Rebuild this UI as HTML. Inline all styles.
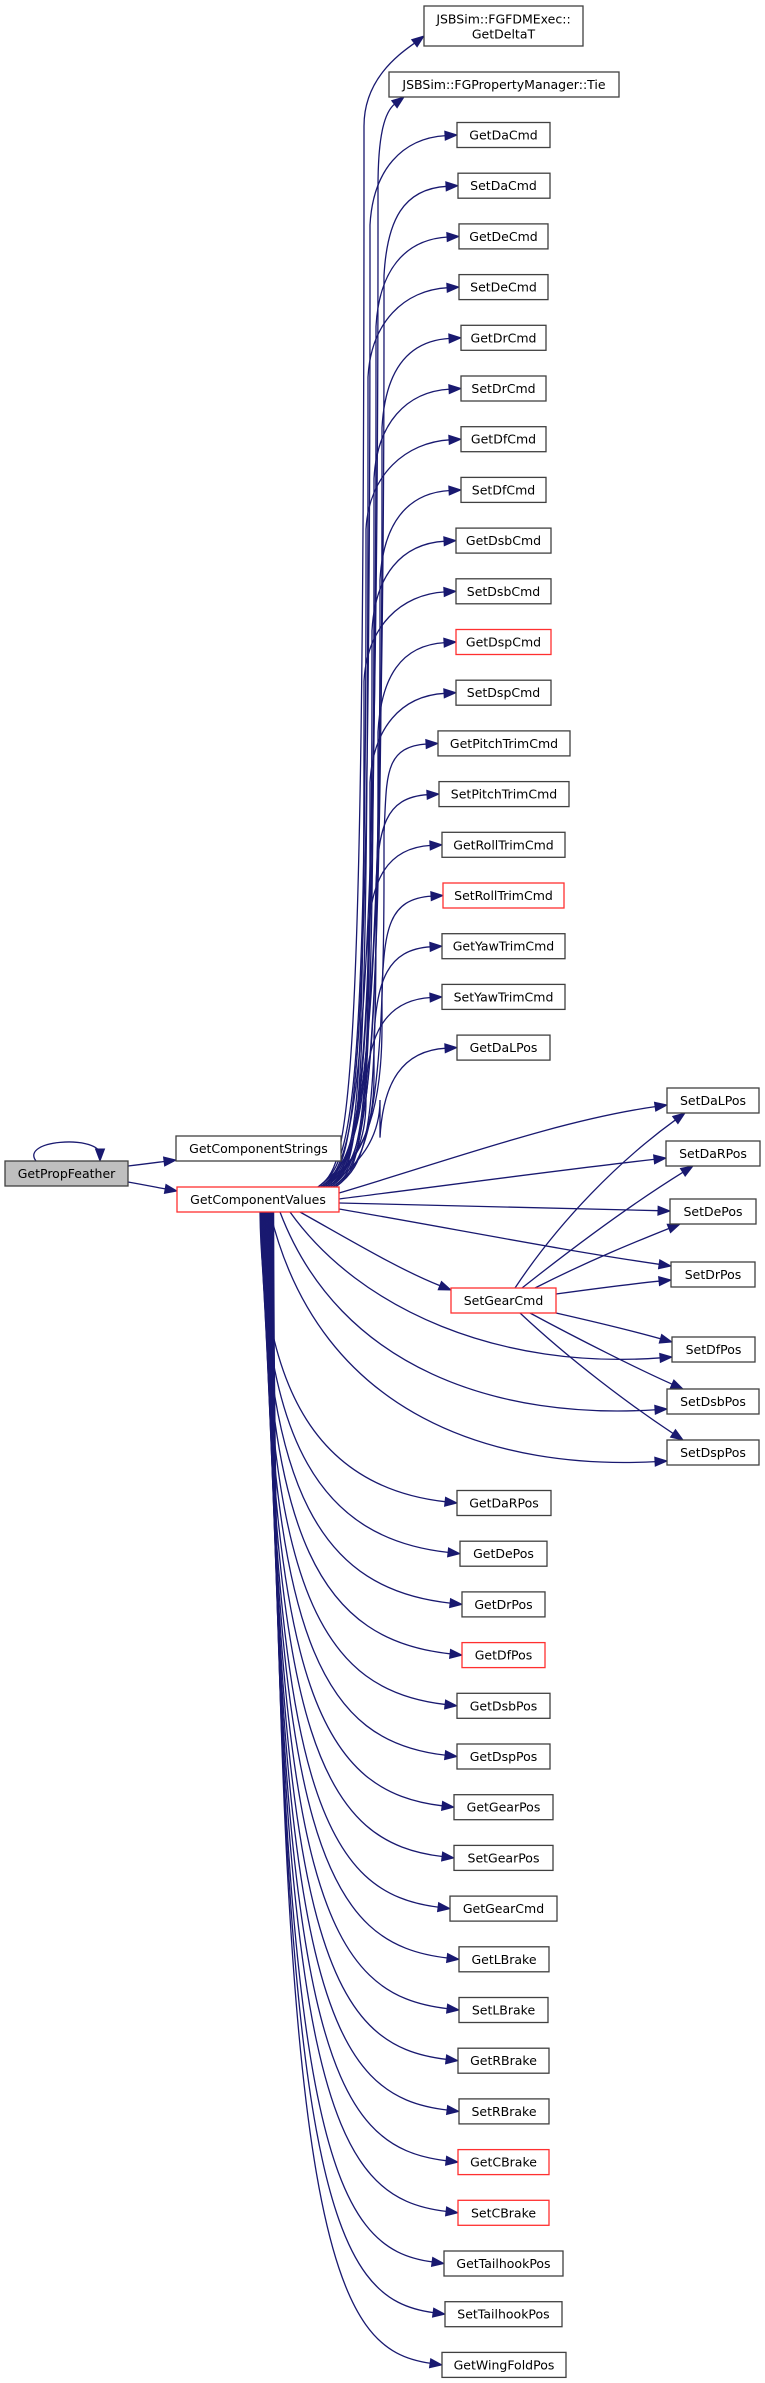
<!DOCTYPE html>
<html><head><meta charset="utf-8">
<style>
html,body{margin:0;padding:0;background:#fff;}
svg{display:block;}
text{font-family:"DejaVu Sans","Liberation Sans",sans-serif;font-size:12.5px;fill:#000;text-anchor:middle;dominant-baseline:central;}
rect{fill:#fff;stroke:#404040;stroke-width:1.3;}
rect.r{stroke:#ff3030;}
rect.g{fill:#bfbfbf;}
path{fill:none;stroke:#191970;stroke-width:1.3;}
polygon{fill:#191970;stroke:#191970;}
</style></head><body>
<svg id="s" width="765" height="2383" viewBox="0 0 765 2383" xmlns="http://www.w3.org/2000/svg">
<g id="edges"></g>
<g id="nodes">
<rect class="g" x="5" y="1161" width="123" height="25"/><text x="66.5" y="1173.5">GetPropFeather</text>
<rect x="176" y="1136" width="165" height="25"/><text x="258.5" y="1148.5">GetComponentStrings</text>
<rect class="r" x="177" y="1187" width="162" height="25"/><text x="258" y="1199.5">GetComponentValues</text>
<rect x="424" y="6" width="159" height="40"/><text x="503.5" y="19">JSBSim::FGFDMExec::</text><text x="503.5" y="34">GetDeltaT</text>
<rect x="389" y="72" width="230" height="25"/><text x="504" y="84.5">JSBSim::FGPropertyManager::Tie</text>

<rect x="457" y="122.5" width="93" height="25"/><text x="503.5" y="135">GetDaCmd</text>
<rect x="458" y="173.2" width="92" height="25"/><text x="503.5" y="185.7">SetDaCmd</text>
<rect x="459" y="223.9" width="89" height="25"/><text x="503.5" y="236.4">GetDeCmd</text>
<rect x="459" y="274.6" width="89" height="25"/><text x="503.5" y="287.1">SetDeCmd</text>
<rect x="461" y="325.3" width="85" height="25"/><text x="503.5" y="337.8">GetDrCmd</text>
<rect x="461" y="376" width="85" height="25"/><text x="503.5" y="388.5">SetDrCmd</text>
<rect x="461" y="426.7" width="85" height="25"/><text x="503.5" y="439.2">GetDfCmd</text>
<rect x="461" y="477.4" width="85" height="25"/><text x="503.5" y="489.9">SetDfCmd</text>
<rect x="456" y="528.1" width="95" height="25"/><text x="503.5" y="540.6">GetDsbCmd</text>
<rect x="456" y="578.8" width="95" height="25"/><text x="503.5" y="591.3">SetDsbCmd</text>
<rect class="r" x="456" y="629.5" width="95" height="25"/><text x="503.5" y="642">GetDspCmd</text>
<rect x="456" y="680.2" width="95" height="25"/><text x="503.5" y="692.7">SetDspCmd</text>
<rect x="438" y="730.9" width="132" height="25"/><text x="504" y="743.4">GetPitchTrimCmd</text>
<rect x="439" y="781.6" width="130" height="25"/><text x="504" y="794.1">SetPitchTrimCmd</text>
<rect x="442" y="832.3" width="123" height="25"/><text x="503.5" y="844.8">GetRollTrimCmd</text>
<rect class="r" x="443" y="883" width="121" height="25"/><text x="503.5" y="895.5">SetRollTrimCmd</text>
<rect x="442" y="933.7" width="123" height="25"/><text x="503.5" y="946.2">GetYawTrimCmd</text>
<rect x="442" y="984.4" width="123" height="25"/><text x="503.5" y="996.9">SetYawTrimCmd</text>
<rect x="457" y="1035.1" width="93" height="25"/><text x="503.5" y="1047.6">GetDaLPos</text>

<rect class="r" x="451" y="1288" width="105" height="25"/><text x="503.5" y="1300.5">SetGearCmd</text>

<rect x="667" y="1088" width="92" height="25"/><text x="713" y="1100.5">SetDaLPos</text>
<rect x="666" y="1141" width="94" height="25"/><text x="713" y="1153.5">SetDaRPos</text>
<rect x="670" y="1199" width="86" height="25"/><text x="713" y="1211.5">SetDePos</text>
<rect x="671" y="1262" width="84" height="25"/><text x="713" y="1274.5">SetDrPos</text>
<rect x="672" y="1337" width="83" height="25"/><text x="713.5" y="1349.5">SetDfPos</text>
<rect x="667" y="1389" width="92" height="25"/><text x="713" y="1401.5">SetDsbPos</text>
<rect x="667" y="1440" width="92" height="25"/><text x="713" y="1452.5">SetDspPos</text>

<rect x="457" y="1490.5" width="94" height="25"/><text x="504" y="1503">GetDaRPos</text>
<rect x="460" y="1541.2" width="87" height="25"/><text x="503.5" y="1553.7">GetDePos</text>
<rect x="462" y="1591.9" width="83" height="25"/><text x="503.5" y="1604.4">GetDrPos</text>
<rect class="r" x="462" y="1642.6" width="83" height="25"/><text x="503.5" y="1655.1">GetDfPos</text>
<rect x="457" y="1693.3" width="93" height="25"/><text x="503.5" y="1705.8">GetDsbPos</text>
<rect x="457" y="1744" width="93" height="25"/><text x="503.5" y="1756.5">GetDspPos</text>
<rect x="454" y="1794.7" width="99" height="25"/><text x="503.5" y="1807.2">GetGearPos</text>
<rect x="454" y="1845.4" width="99" height="25"/><text x="503.5" y="1857.9">SetGearPos</text>
<rect x="450" y="1896.1" width="107" height="25"/><text x="503.5" y="1908.6">GetGearCmd</text>
<rect x="459" y="1946.8" width="90" height="25"/><text x="504" y="1959.3">GetLBrake</text>
<rect x="459" y="1997.5" width="89" height="25"/><text x="503.5" y="2010">SetLBrake</text>
<rect x="458" y="2048.2" width="91" height="25"/><text x="503.5" y="2060.7">GetRBrake</text>
<rect x="459" y="2098.9" width="90" height="25"/><text x="504" y="2111.4">SetRBrake</text>
<rect class="r" x="458" y="2149.6" width="91" height="25"/><text x="503.5" y="2162.1">GetCBrake</text>
<rect class="r" x="458" y="2200.3" width="91" height="25"/><text x="503.5" y="2212.8">SetCBrake</text>
<rect x="444" y="2251" width="119" height="25"/><text x="503.5" y="2263.5">GetTailhookPos</text>
<rect x="445" y="2301.7" width="117" height="25"/><text x="503.5" y="2314.2">SetTailhookPos</text>
<rect x="442" y="2352.4" width="124" height="25"/><text x="504" y="2364.9">GetWingFoldPos</text>
</g>
</svg>
<script>
(function(){
var g=document.getElementById('edges'),out='';
function arr(ex,ey,fx,fy){var dx=ex-fx,dy=ey-fy,l=Math.sqrt(dx*dx+dy*dy);dx/=l;dy/=l;
 var bx=ex-dx*12,by=ey-dy*12,px=-dy*4.5,py=dx*4.5;
 out+='<polygon points="'+ex+','+ey+' '+(bx+px)+','+(by+py)+' '+(bx-px)+','+(by-py)+'"/>';}
function c(sx,sy,c1x,c1y,c2x,c2y,ex,ey,pre){
 var dx=ex-c2x,dy=ey-c2y,l=Math.sqrt(dx*dx+dy*dy);var lx=ex-dx/l*11,ly=ey-dy/l*11;
 out+='<path d="'+(pre||('M'+sx+','+sy))+' C'+c1x+','+c1y+' '+c2x+','+c2y+' '+lx+','+ly+'"/>';arr(ex,ey,c2x,c2y);}
c(128,1166,145,1164,160,1162,176,1160);
c(128,1182,145,1185,160,1188,177,1191);
out+='<path d="M36,1161 C20,1140 95,1135 100,1153"/>';arr(100,1161,100,1150);
var T=[[424,36],[404,97]];
var ux=[457,458,459,459,461,461,461,461,456,456,456,456,438,439,442,443,442,442,457];
for(var i=0;i<19;i++)T.push([ux[i],135+i*50.7]);
for(var k=0;k<T.length;k++){
 var t=T[k],bx=364+((k*7)%11)*2,sx=318+(k%8)*2.5;
 var ex=t[0],ey=t[1];
 var peel=ey+90;
 var pre='M'+sx+',1187 C'+(sx+30)+',1165 '+bx+',1140 '+bx+','+Math.min(1100,peel+40)+' L'+bx+','+peel;
 if(k<2){c(0,0,bx,ey+40,ex-20,ey+15,ex,ey,pre);}
 else c(0,0,bx+3,ey+35,ex-55,ey+3,ex,ey,pre);
}
var lx=[457,460,462,462,457,457,454,454,450,459,459,458,459,458,458,444,445,442];
for(var j=0;j<18;j++){var cy=1503+j*50.7;var sx=260+j*0.8;
 c(sx,1212,sx+2,cy-110,sx+60,cy-15,lx[j],cy);}
c(339,1193,450,1160,560,1120,667,1105);
c(339,1199,450,1185,560,1170,666,1158);
c(339,1203,450,1205,560,1208,670,1211);
c(339,1209,450,1228,560,1250,671,1266);
c(300,1212,350,1240,400,1270,451,1290);
c(290,1212,360,1310,500,1370,672,1357);
c(280,1212,340,1370,500,1420,667,1409);
c(270,1212,320,1420,500,1470,667,1461);
c(515,1288,560,1220,620,1160,685,1113);
c(522,1288,570,1250,630,1205,693,1166);
c(535,1288,590,1260,640,1240,680,1224);
c(556,1294,600,1288,640,1283,671,1280);
c(556,1313,600,1323,640,1333,672,1342);
c(530,1313,580,1340,640,1370,683,1389);
c(520,1313,570,1360,630,1405,683,1440);
g.innerHTML=out;
})();
</script>
</body></html>
